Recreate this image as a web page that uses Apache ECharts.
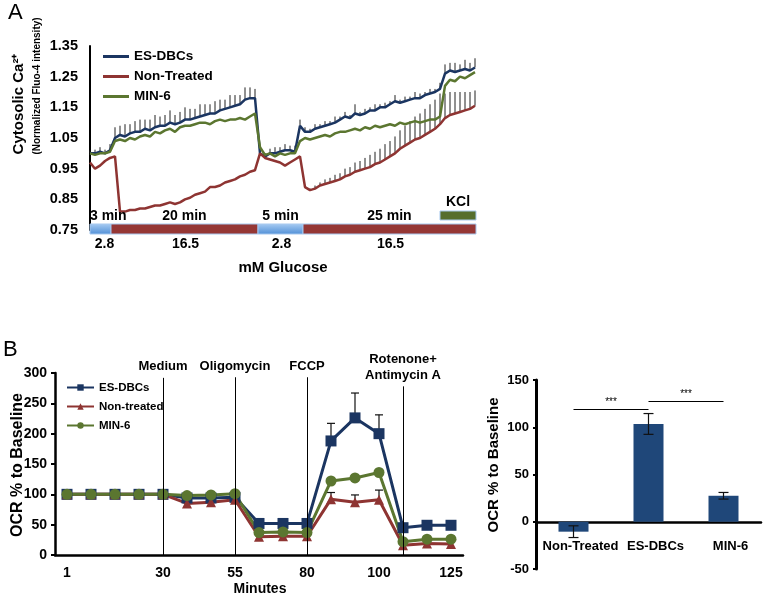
<!DOCTYPE html>
<html>
<head>
<meta charset="utf-8">
<script src="https://cdn.jsdelivr.net/npm/echarts@6/dist/echarts.min.js"></script>
<style>
  html, body { margin: 0; padding: 0; background: #fff; }
  #chart { width: 766px; height: 597px; }
</style>
</head>
<body>
<div id="chart"></div>
<script>
const FONT = '"Liberation Sans", Arial, sans-serif'
const bold = (size) => `bold ${size}px ${FONT}`

// ---- panel A: cytosolic Ca2+ traces (one sample per step of the trace)
const esTrace = [
  1.00, 1.00, 1.005, 1.00, 1.01, 1.05, 1.06, 1.055, 1.065, 1.07,
  1.07, 1.08, 1.075, 1.085, 1.09, 1.09, 1.10, 1.095, 1.10, 1.11,
  1.11, 1.115, 1.12, 1.125, 1.13, 1.13, 1.14, 1.145, 1.15, 1.155,
  1.16, 1.175, 1.18, 1.18, 1.00, 0.99, 1.00, 1.00, 1.005, 1.01,
  1.01, 1.005, 1.09, 1.07, 1.07, 1.08, 1.085, 1.09, 1.095, 1.10,
  1.11, 1.12, 1.115, 1.13, 1.125, 1.13, 1.14, 1.14, 1.15, 1.15,
  1.16, 1.17, 1.165, 1.17, 1.175, 1.18, 1.18, 1.19, 1.195, 1.20,
  1.21, 1.26, 1.27, 1.265, 1.27, 1.275, 1.27, 1.28,
]
const ntTrace = [
  0.97, 0.95, 0.96, 0.975, 0.985, 0.99, 0.81, 0.81, 0.815, 0.815,
  0.82, 0.82, 0.825, 0.83, 0.83, 0.835, 0.84, 0.835, 0.84, 0.85,
  0.855, 0.865, 0.87, 0.875, 0.89, 0.89, 0.895, 0.905, 0.91, 0.915,
  0.925, 0.93, 0.94, 0.945, 1.00, 0.985, 0.98, 0.975, 0.97, 0.96,
  0.97, 0.98, 0.99, 0.89, 0.88, 0.885, 0.895, 0.90, 0.905, 0.91,
  0.915, 0.925, 0.93, 0.94, 0.945, 0.95, 0.955, 0.965, 0.97, 0.98,
  0.99, 1.00, 1.015, 1.025, 1.035, 1.045, 1.05, 1.06, 1.07, 1.08,
  1.095, 1.115, 1.125, 1.13, 1.135, 1.14, 1.145, 1.155,
]
const minTrace = [
  1.00, 0.995, 1.00, 1.00, 1.005, 1.04, 1.045, 1.04, 1.05, 1.045,
  1.055, 1.06, 1.055, 1.07, 1.065, 1.075, 1.08, 1.07, 1.085, 1.09,
  1.09, 1.095, 1.10, 1.10, 1.095, 1.105, 1.11, 1.105, 1.11, 1.11,
  1.115, 1.11, 1.12, 1.13, 1.02, 0.995, 1.00, 0.99, 1.00, 0.995,
  1.00, 1.00, 1.04, 1.05, 1.045, 1.05, 1.055, 1.06, 1.055, 1.065,
  1.07, 1.07, 1.075, 1.08, 1.075, 1.085, 1.08, 1.09, 1.085, 1.09,
  1.095, 1.09, 1.10, 1.095, 1.10, 1.105, 1.10, 1.105, 1.11, 1.11,
  1.12, 1.22, 1.24, 1.235, 1.25, 1.245, 1.255, 1.265,
]
const esTraceErr = [
  0.01, 0.012, 0.015, 0.012, 0.02, 0.035, 0.03, 0.04, 0.03, 0.035,
  0.04, 0.03, 0.035, 0.04, 0.03, 0.035, 0.04, 0.03, 0.035, 0.04,
  0.035, 0.03, 0.04, 0.035, 0.03, 0.04, 0.035, 0.03, 0.04, 0.035,
  0.03, 0.04, 0.035, 0.03, 0.015, 0.01, 0.015, 0.02, 0.015, 0.02,
  0.015, 0.02, 0.02, 0.015, 0.01, 0.015, 0.01, 0.015, 0.01, 0.02,
  0.01, 0.015, 0.01, 0.03, 0.01, 0.015, 0.01, 0.02, 0.01, 0.015,
  0.01, 0.02, 0.01, 0.015, 0.01, 0.02, 0.015, 0.01, 0.015, 0.01,
  0.02, 0.03, 0.025, 0.03, 0.02, 0.03, 0.025, 0.03,
]
const ntTraceErr = [
  0, 0, 0, 0, 0, 0, 0, 0, 0, 0,
  0, 0, 0, 0, 0, 0, 0, 0, 0, 0,
  0, 0, 0, 0, 0, 0, 0, 0, 0, 0,
  0, 0, 0, 0, 0, 0, 0, 0, 0, 0,
  0, 0, 0, 0, 0.005, 0.01, 0.01, 0.015, 0.015, 0.02,
  0.02, 0.025, 0.025, 0.03, 0.03, 0.035, 0.04, 0.04, 0.045, 0.05,
  0.05, 0.055, 0.06, 0.065, 0.07, 0.075, 0.08, 0.085, 0.09, 0.095,
  0.1, 0.08, 0.075, 0.07, 0.065, 0.06, 0.055, 0.05,
]

// glucose protocol under the traces (same sample units as the traces)
const segStart = [0, 4.2, 33.6, 42.6]
const segEnd = [4.2, 33.6, 42.6, 77.2]
const segGlucose = ['2.8', '16.5', '2.8', '16.5']
const segDuration = ['3 min', '20 min', '5 min', '25 min']
const kclStart = 70
const kclEnd = 77.2

// ---- panel B: OCR time course
const ocrTicks = ['1', '', '', '', '30', '', '', '55', '', '', '80', '', '', '100', '', '', '125']
const ocrEs = [100, 100, 100, 100, 100, 94, 94, 95, 52, 52, 52, 188, 226, 200, 45, 49, 49]
const ocrNt = [100, 100, 100, 100, 100, 85, 87, 91, 30, 31, 31, 92, 87, 91, 16, 19, 18]
const ocrMin = [100, 100, 100, 100, 100, 98, 99, 101, 37, 38, 37, 122, 127, 136, 22, 26, 26]
const ocrEsErr = [0, 0, 0, 0, 0, 0, 0, 0, 0, 0, 0, 29, 41, 31, 0, 0, 0]
const ocrNtErr = [0, 0, 0, 0, 0, 0, 0, 0, 0, 0, 0, 11, 12, 16, 0, 0, 0]
const injections = ['Medium', 'Oligomycin', 'FCCP', 'Rotenone+\nAntimycin A']
const injectionAt = [4, 7, 10, 14]
const injectionTop = [292, 293, 293, 278]

// ---- panel B right: spare respiratory capacity bars
const barCats = ['Non-Treated', 'ES-DBCs', 'MIN-6']
const barVals = [-10.5, 103.5, 27.5]
const barErr = [6.2, 11, 3.5]
const sigPairs = [['Non-Treated', 'ES-DBCs'], ['ES-DBCs', 'MIN-6']]
const sigLevel = [119.5, 128]

const NAVY = '#1b3561'
const RED = '#8e3432'
const OLIVE = '#5b7630'

const tickSeries = (name, values, errs) => ({
  type: 'custom',
  name,
  xAxisIndex: 0,
  yAxisIndex: 0,
  z: 1,
  silent: true,
  data: values.map((v, i) => [i, v, errs[i]]),
  encode: { x: 0, y: 1 },
  renderItem: (params, api) => {
    const err = api.value(2)
    if (!err) return null
    const a = api.coord([api.value(0), api.value(1)])
    const b = api.coord([api.value(0), api.value(1) + err])
    return {
      type: 'line',
      shape: { x1: a[0], y1: a[1], x2: b[0], y2: b[1] },
      style: { stroke: '#222', lineWidth: 1 },
    }
  },
})

const traceSeries = (name, values, color) => ({
  type: 'line',
  name,
  xAxisIndex: 0,
  yAxisIndex: 0,
  z: 3,
  symbol: 'none',
  data: values.map((v, i) => [i, v]),
  itemStyle: { color },
  lineStyle: { color, width: 2.5 },
})

const ocrSeries = (name, values, color, symbol, size) => ({
  type: 'line',
  name,
  xAxisIndex: 1,
  yAxisIndex: 1,
  z: 3,
  data: values,
  symbol,
  symbolSize: size,
  itemStyle: { color },
  lineStyle: { color, width: 3 },
})

const upperErrSeries = (values, errs) => ({
  type: 'custom',
  xAxisIndex: 1,
  yAxisIndex: 1,
  z: 2,
  silent: true,
  data: values.map((v, i) => [i, v, errs[i]]),
  encode: { x: 0, y: 1 },
  renderItem: (params, api) => {
    const err = api.value(2)
    if (!err) return null
    const a = api.coord([api.value(0), api.value(1)])
    const b = api.coord([api.value(0), api.value(1) + err])
    const st = { stroke: '#111', lineWidth: 1.2 }
    return {
      type: 'group',
      children: [
        { type: 'line', shape: { x1: a[0], y1: a[1], x2: b[0], y2: b[1] }, style: st },
        { type: 'line', shape: { x1: b[0] - 4, y1: b[1], x2: b[0] + 4, y2: b[1] }, style: st },
      ],
    }
  },
})

const lowGlucose = new echarts.graphic.LinearGradient(0, 0, 0, 1, [
  { offset: 0, color: '#a9cdf3' },
  { offset: 1, color: '#4f8ed6' },
])

const chart = echarts.init(document.getElementById('chart'))

chart.setOption({
  animation: false,
  textStyle: { fontFamily: FONT },
  grid: [
    { left: 90, top: 46, width: 386, height: 184, outerBoundsMode: 'none' },
    { left: 55, top: 373, width: 408, height: 182, outerBoundsMode: 'none' },
    { left: 536, top: 380, width: 225, height: 189, outerBoundsMode: 'none' },
  ],
  legend: [
    {
      data: ['A:ES-DBCs', 'A:Non-Treated', 'A:MIN-6'],
      orient: 'vertical',
      left: 98,
      top: 44,
      icon: 'rect',
      itemWidth: 26,
      itemHeight: 3,
      itemGap: 5,
      formatter: (n) => n.slice(2),
      textStyle: { fontFamily: FONT, fontWeight: 'bold', fontSize: 13.5, lineHeight: 15, color: '#000' },
    },
    {
      data: ['B:ES-DBCs', 'B:Non-treated', 'B:MIN-6'],
      orient: 'vertical',
      left: 61,
      top: 376,
      itemWidth: 27,
      itemHeight: 8,
      itemGap: 6,
      formatter: (n) => n.slice(2),
      textStyle: { fontFamily: FONT, fontWeight: 'bold', fontSize: 11.5, lineHeight: 13, color: '#000' },
    },
  ],
  xAxis: [
    { gridIndex: 0, type: 'value', min: 0, max: 77.2, show: false },
    {
      gridIndex: 1,
      type: 'category',
      data: ocrTicks.map((_, i) => String(i)),
      boundaryGap: true,
      axisLine: { lineStyle: { color: '#000', width: 2.5 } },
      axisTick: { alignWithLabel: true, interval: 0, inside: true, length: 3, lineStyle: { color: '#000', width: 2 } },
      axisLabel: {
        interval: 0,
        margin: 11,
        formatter: (v, i) => ocrTicks[i],
        color: '#000',
        fontWeight: 'bold',
        fontSize: 14,
        fontFamily: FONT,
      },
    },
    {
      // zero line of the bar panel
      gridIndex: 2,
      type: 'category',
      data: barCats,
      axisLine: { onZero: true, lineStyle: { color: '#000', width: 2.5 } },
      axisTick: { length: 3, lineStyle: { color: '#000', width: 2 } },
      axisLabel: { show: false },
    },
    {
      // category names of the bar panel, sitting under the zero line
      gridIndex: 2,
      type: 'category',
      data: barCats,
      position: 'bottom',
      offset: -29,
      axisLine: { show: false, onZero: false },
      axisTick: { show: false },
      axisLabel: {
        interval: 0,
        margin: 0,
        padding: [0, 0, 0, 14],
        color: '#000',
        fontWeight: 'bold',
        fontSize: 13,
        fontFamily: FONT,
      },
    },
  ],
  yAxis: [
    {
      gridIndex: 0,
      type: 'value',
      min: 0.75,
      max: 1.35,
      interval: 0.1,
      splitLine: { show: false },
      axisLine: { show: true, lineStyle: { color: '#000', width: 2 } },
      axisTick: { show: false },
      axisLabel: {
        margin: 12,
        formatter: (v) => v.toFixed(2),
        color: '#000',
        fontWeight: 'bold',
        fontSize: 14.5,
        fontFamily: FONT,
      },
    },
    {
      gridIndex: 1,
      type: 'value',
      min: 0,
      max: 300,
      interval: 50,
      splitLine: { show: false },
      axisLine: { show: true, lineStyle: { color: '#000', width: 2.5 } },
      axisTick: { show: true, length: 4, lineStyle: { color: '#000', width: 2 } },
      axisLabel: { margin: 8, color: '#000', fontWeight: 'bold', fontSize: 14, fontFamily: FONT },
    },
    {
      gridIndex: 2,
      type: 'value',
      min: -50,
      max: 150,
      interval: 50,
      splitLine: { show: false },
      axisLine: { show: true, lineStyle: { color: '#000', width: 3 } },
      axisTick: { show: true, length: 3, lineStyle: { color: '#000', width: 2 } },
      axisLabel: { margin: 7, color: '#000', fontWeight: 'bold', fontSize: 13, fontFamily: FONT },
    },
  ],
  series: [
    // panel A
    tickSeries('esTicks', esTrace, esTraceErr),
    tickSeries('ntTicks', ntTrace, ntTraceErr),
    traceSeries('A:ES-DBCs', esTrace, NAVY),
    traceSeries('A:Non-Treated', ntTrace, RED),
    traceSeries('A:MIN-6', minTrace, OLIVE),
    {
      type: 'custom',
      xAxisIndex: 0,
      yAxisIndex: 0,
      z: 4,
      silent: true,
      data: segStart.map((s, i) => [s, segEnd[i], 0.75]),
      encode: { x: [0, 1], y: 2 },
      renderItem: (params, api) => {
        const i = params.dataIndex
        const a = api.coord([api.value(0), 0.75])
        const b = api.coord([api.value(1), 0.75])
        const top = a[1] - 6
        const low = segGlucose[i] === '2.8'
        return {
          type: 'group',
          children: [
            {
              type: 'rect',
              shape: { x: a[0], y: top, width: b[0] - a[0], height: 10 },
              style: { fill: low ? lowGlucose : '#953735', stroke: '#a7c8ee', lineWidth: 1 },
            },
            {
              type: 'text',
              style: {
                text: segDuration[i],
                x: i === 0 ? a[0] : (a[0] + b[0]) / 2,
                y: top - 1,
                align: i === 0 ? 'left' : 'center',
                verticalAlign: 'bottom',
                font: bold(14),
                fill: '#000',
              },
            },
            {
              type: 'text',
              style: {
                text: segGlucose[i],
                x: (a[0] + b[0]) / 2 + (i === 0 ? 4 : 1),
                y: top + 13,
                align: 'center',
                verticalAlign: 'top',
                font: bold(14),
                fill: '#000',
              },
            },
          ],
        }
      },
    },
    {
      type: 'custom',
      xAxisIndex: 0,
      yAxisIndex: 0,
      z: 4,
      silent: true,
      data: [[kclStart, kclEnd, 0.75]],
      encode: { x: [0, 1], y: 2 },
      renderItem: (params, api) => {
        const a = api.coord([api.value(0), 0.75])
        const b = api.coord([api.value(1), 0.75])
        const top = a[1] - 19
        return {
          type: 'group',
          children: [
            {
              type: 'rect',
              shape: { x: a[0], y: top, width: b[0] - a[0], height: 9 },
              style: { fill: '#566e2d', stroke: '#a7c8ee', lineWidth: 1 },
            },
            {
              type: 'text',
              style: {
                text: 'KCl',
                x: (a[0] + b[0]) / 2,
                y: top - 2,
                align: 'center',
                verticalAlign: 'bottom',
                font: bold(14),
                fill: '#000',
              },
            },
          ],
        }
      },
    },

    // panel B time course
    {
      ...ocrSeries('B:ES-DBCs', ocrEs, NAVY, 'rect', 11),
      markLine: {
        silent: true,
        symbol: 'none',
        lineStyle: { color: '#000', width: 1, type: 'solid' },
        label: {
          position: 'end',
          distance: 3,
          formatter: '{b}',
          color: '#000',
          fontWeight: 'bold',
          fontSize: 13,
          lineHeight: 16,
          fontFamily: FONT,
        },
        data: injectionAt.map((k, i) => [
          { name: injections[i], coord: [k, 0] },
          { coord: [k, injectionTop[i]] },
        ]),
      },
    },
    ocrSeries('B:Non-treated', ocrNt, RED, 'triangle', 10),
    ocrSeries('B:MIN-6', ocrMin, OLIVE, 'circle', 11),
    upperErrSeries(ocrEs, ocrEsErr),
    upperErrSeries(ocrNt, ocrNtErr),

    // panel B bars
    {
      type: 'bar',
      xAxisIndex: 2,
      yAxisIndex: 2,
      data: barVals,
      barWidth: 30,
      itemStyle: { color: '#1f4779' },
      markLine: {
        silent: true,
        symbol: 'none',
        lineStyle: { color: '#000', width: 1, type: 'solid' },
        label: {
          position: 'middle',
          formatter: '***',
          distance: 2,
          color: '#000',
          fontSize: 10,
          fontFamily: FONT,
        },
        data: sigPairs.map((p, i) => [
          { coord: [p[0], sigLevel[i]] },
          { coord: [p[1], sigLevel[i]] },
        ]),
      },
    },
    {
      type: 'custom',
      xAxisIndex: 2,
      yAxisIndex: 2,
      z: 3,
      silent: true,
      data: barVals.map((v, i) => [i, v, barErr[i]]),
      encode: { x: 0, y: 1 },
      renderItem: (params, api) => {
        const v = api.value(1)
        const e = api.value(2)
        const hi = api.coord([api.value(0), v + e])
        const lo = api.coord([api.value(0), v - e])
        const st = { stroke: '#111', lineWidth: 1.2 }
        return {
          type: 'group',
          children: [
            { type: 'line', shape: { x1: hi[0], y1: hi[1], x2: lo[0], y2: lo[1] }, style: st },
            { type: 'line', shape: { x1: hi[0] - 5, y1: hi[1], x2: hi[0] + 5, y2: hi[1] }, style: st },
            { type: 'line', shape: { x1: lo[0] - 5, y1: lo[1], x2: lo[0] + 5, y2: lo[1] }, style: st },
          ],
        }
      },
    },
  ],
  graphic: [
    { type: 'text', x: 8, y: 2, style: { text: 'A', font: `22px ${FONT}`, fill: '#000' } },
    { type: 'text', x: 3, y: 339, style: { text: 'B', font: `22px ${FONT}`, fill: '#000' } },
    {
      type: 'text', x: 19, y: 104, rotation: Math.PI / 2,
      style: { text: 'Cytosolic Ca²⁺', font: bold(15), fill: '#000', align: 'center', verticalAlign: 'middle' },
    },
    {
      type: 'text', x: 37, y: 86, rotation: Math.PI / 2,
      style: { text: '(Normalized Fluo-4 intensity)', font: bold(10), fill: '#000', align: 'center', verticalAlign: 'middle' },
    },
    {
      type: 'text', x: 283, y: 268,
      style: { text: 'mM Glucose', font: bold(15), fill: '#000', align: 'center', verticalAlign: 'middle' },
    },
    {
      type: 'text', x: 18, y: 465, rotation: Math.PI / 2,
      style: { text: 'OCR % to Baseline', font: bold(16), fill: '#000', align: 'center', verticalAlign: 'middle' },
    },
    {
      type: 'text', x: 260, y: 589,
      style: { text: 'Minutes', font: bold(14), fill: '#000', align: 'center', verticalAlign: 'middle' },
    },
    {
      type: 'text', x: 494, y: 465, rotation: Math.PI / 2,
      style: { text: 'OCR % to Baseline', font: bold(15), fill: '#000', align: 'center', verticalAlign: 'middle' },
    },
  ],
})
</script>
</body>
</html>
